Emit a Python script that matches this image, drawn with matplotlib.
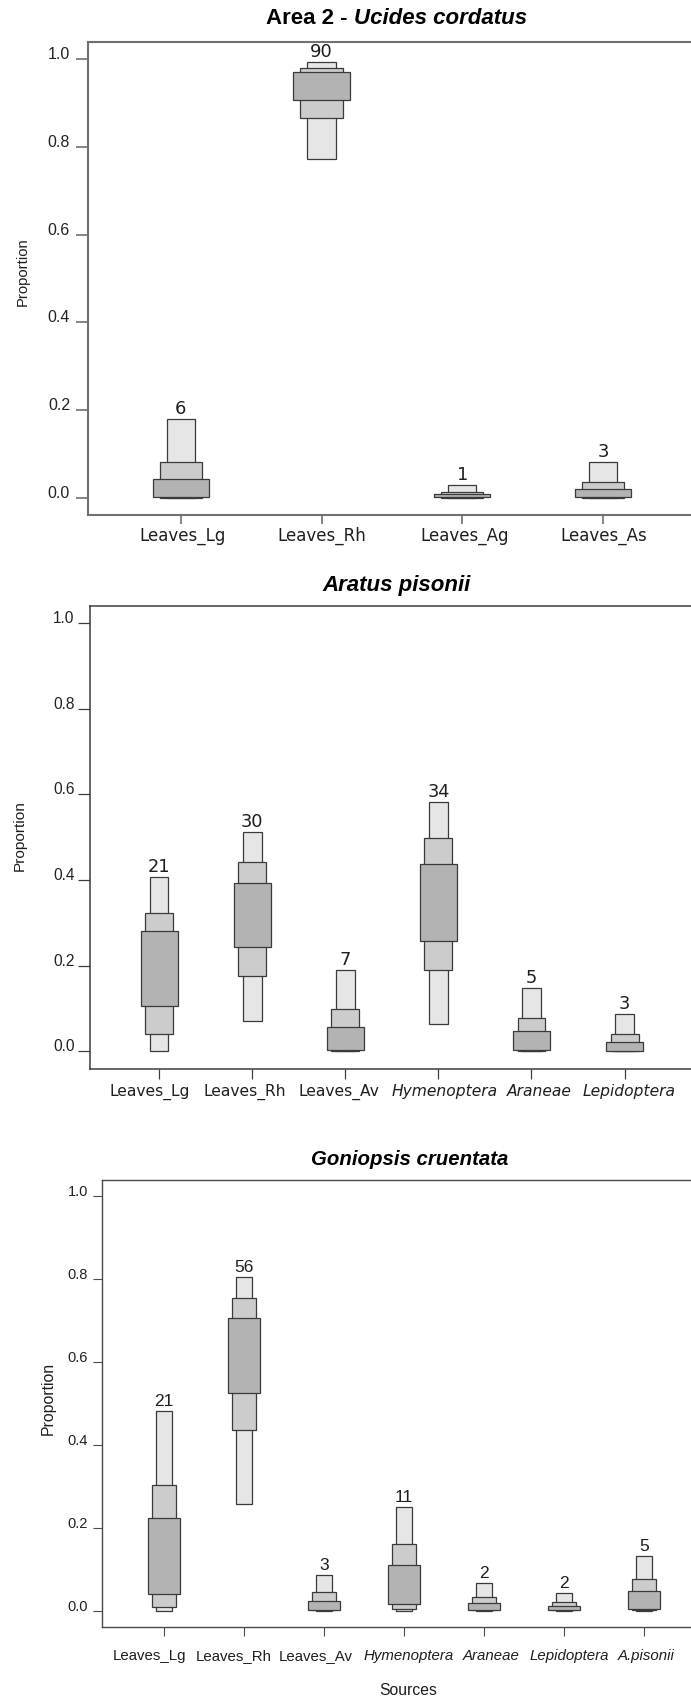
import numpy as np
import matplotlib
matplotlib.use("Agg")
import matplotlib.pyplot as plt

# ---------------- data ----------------
# Area 2 - Ucides cordatus
uc_sources = ["Leaves_Lg", "Leaves_Rh", "Leaves_Ag", "Leaves_As"]
uc_italic = [False, False, False, False]
uc_mode = [6, 90, 1, 3]
uc_ci95 = [(0.000, 0.179), (0.772, 0.994), (0.000, 0.029), (0.000, 0.081)]
uc_ci75 = [(0.0005, 0.081), (0.867, 0.981), (0.0005, 0.014), (0.0005, 0.036)]
uc_ci50 = [(0.001, 0.043), (0.907, 0.972), (0.001, 0.009), (0.001, 0.020)]

# Aratus pisonii
ap_sources = ["Leaves_Lg", "Leaves_Rh", "Leaves_Av", "Hymenoptera", "Araneae", "Lepidoptera"]
ap_italic = [False, False, False, True, True, True]
ap_mode = [21, 30, 7, 34, 5, 3]
ap_ci95 = [(0.000, 0.407), (0.070, 0.513), (0.000, 0.189), (0.064, 0.583), (0.000, 0.147), (0.000, 0.087)]
ap_ci75 = [(0.040, 0.323), (0.177, 0.441), (0.002, 0.100), (0.190, 0.498), (0.002, 0.078), (0.001, 0.041)]
ap_ci50 = [(0.106, 0.282), (0.243, 0.393), (0.003, 0.058), (0.257, 0.437), (0.003, 0.047), (0.002, 0.023)]

# Goniopsis cruentata
gc_sources = ["Leaves_Lg", "Leaves_Rh", "Leaves_Av", "Hymenoptera", "Araneae", "Lepidoptera", "A.pisonii"]
gc_italic = [False, False, False, True, True, True, True]
gc_mode = [21, 56, 3, 11, 2, 2, 5]
gc_ci95 = [(0.000, 0.481), (0.257, 0.806), (0.000, 0.087), (0.000, 0.251), (0.000, 0.066), (0.000, 0.042), (0.000, 0.131)]
gc_ci75 = [(0.008, 0.304), (0.436, 0.754), (0.001, 0.044), (0.003, 0.160), (0.001, 0.033), (0.001, 0.021), (0.002, 0.076)]
gc_ci50 = [(0.039, 0.223), (0.526, 0.707), (0.002, 0.024), (0.015, 0.111), (0.002, 0.018), (0.002, 0.012), (0.003, 0.048)]

yticks = [0.0, 0.2, 0.4, 0.6, 0.8, 1.0]
ytick_labels = ["0.0", "0.2", "0.4", "0.6", "0.8", "1.0"]

# ---------------- figure ----------------
W, H = 691, 1698
fig = plt.figure(figsize=(W / 100, H / 100), dpi=100)
fig.patch.set_facecolor("white")

SANS = ["Liberation Sans", "DejaVu Sans"]
VERA = ["DejaVu Sans"]
PT = 0.72  # points per pixel at 100 dpi

FILL95, FILL75, FILL50 = "#e6e6e6", "#cccccc", "#b3b3b3"
EDGE = "#3a3a3a"
TXT = "#1e1e1e"


def px_axes(left, top, right, bottom):
    return fig.add_axes([left / W, 1 - bottom / H, (right - left) / W, (bottom - top) / H])


def draw_panel(ax, sources, mode, ci95, ci75, ci50, italic, xlim, st):
    n = len(sources)
    x = np.arange(1, n + 1)
    # nested credible-interval boxes: 95% (narrow, light) under 75% under 50% (wide, dark)
    for ci, w, fc, z in ((ci95, 0.2, FILL95, 2), (ci75, 0.3, FILL75, 3), (ci50, 0.4, FILL50, 4)):
        lo = np.array([c[0] for c in ci])
        hi = np.array([c[1] for c in ci])
        ax.bar(x, hi - lo, bottom=lo, width=w, color=fc, edgecolor=EDGE,
               linewidth=0.9, zorder=z)
    for xi, m, c in zip(x, mode, ci95):
        ax.annotate(str(m), (xi, c[1]), xytext=(0, 3.6), textcoords="offset points",
                    ha="center", va="baseline", fontsize=st["mode_size"],
                    family=st["mode_family"], color=TXT, zorder=6)
    ax.set_xlim(*xlim)
    ax.set_ylim(-0.04, 1.04)
    ax.set_xticks(x)
    ax.set_yticks(yticks)
    ax.set_yticklabels(ytick_labels)
    # category names, nudged sideways so neighbouring names stay apart
    for xi, name, it, dx in zip(x, sources, italic, st["xlab_nudge"]):
        ax.annotate(name, (xi, 0), xycoords=ax.get_xaxis_transform(),
                    xytext=(dx * PT, -st["xlab_drop"] * PT), textcoords="offset points",
                    ha="center", va="baseline", fontsize=st["xlab_size"],
                    family=st["xlab_family"], fontstyle="italic" if it else "normal",
                    color=TXT, annotation_clip=False)
    for lab in ax.get_yticklabels():
        lab.set_family(SANS)
        lab.set_fontsize(st["ytick_size"])
        lab.set_verticalalignment("baseline")
        lab.set_color("#222222")
    ax.tick_params(axis="y", length=st["ytick_len"], width=st["spine_w"] * 0.8,
                   color=st["spine_c"], pad=st["ytick_pad"])
    ax.tick_params(axis="x", length=st["xtick_len"], width=st["spine_w"] * 0.8,
                   color=st["spine_c"], labelbottom=False)
    for sp in ax.spines.values():
        sp.set_color(st["spine_c"])
        sp.set_linewidth(st["spine_w"])
    ax.set_facecolor("white")


# panel 1
ax1 = px_axes(88.0, 41.7, 88.0 + 4.32 * 140.7, 515.4)
draw_panel(ax1, uc_sources, uc_mode, uc_ci95, uc_ci75, uc_ci50, uc_italic,
           (0.34, 4.66),
           dict(mode_size=13, mode_family=VERA, xlab_family=VERA, xlab_size=12,
                xlab_nudge=[2, 0, 2.5, 1], xlab_drop=25.5,
                ytick_size=11.5, ytick_len=8.6, ytick_pad=4.3, xtick_len=6.5,
                spine_c="#707070", spine_w=1.5))

# panel 2
ax2 = px_axes(90.3, 605.8, 90.3 + 6.48 * 93.08, 1068.5)
draw_panel(ax2, ap_sources, ap_mode, ap_ci95, ap_ci75, ap_ci50, ap_italic,
           (0.26, 6.74),
           dict(mode_size=12.8, mode_family=VERA, xlab_family=VERA, xlab_size=11.2,
                xlab_nudge=[-9, -7.5, -6.5, 6, 8, 4], xlab_drop=27.5,
                ytick_size=11.2, ytick_len=8.4, ytick_pad=2.9, xtick_len=7.0,
                spine_c="#3c3c3c", spine_w=1.1))

# panel 3
ax3 = px_axes(101.6, 1179.9, 101.6 + 7.56 * 80.0, 1627.1)
draw_panel(ax3, gc_sources, gc_mode, gc_ci95, gc_ci75, gc_ci50, gc_italic,
           (0.22, 7.78),
           dict(mode_size=12.5, mode_family=SANS, xlab_family=SANS, xlab_size=10.8,
                xlab_nudge=[-14, -10, -8, 5, 7, 5, 2.5], xlab_drop=33,
                ytick_size=10.5, ytick_len=6.2, ytick_pad=3.6, xtick_len=6.2,
                spine_c="#4a4a4a", spine_w=1.0))

# y axis titles
for (xp, yp, fs) in ((22.5, 272, 10.7), (19.4, 836, 11.1), (48, 1398, 11.4)):
    fig.text(xp / W, 1 - yp / H, "Proportion", rotation=90, ha="center", va="center",
             fontsize=fs, family=SANS, color=TXT)

fig.text(408 / W, 1 - 1690.7 / H, "Sources", ha="center", va="center",
         fontsize=11.3, family=SANS, color=TXT)

# panel titles (mixed upright / italic runs)
renderer = fig.canvas.get_renderer()


def mixed_title(cx, cy, parts, fs):
    texts = []
    for s, style in parts:
        t = fig.text(0, 1 - cy / H, s, ha="left", va="center", fontsize=fs,
                     family=SANS, fontweight="bold", fontstyle=style, color="black")
        texts.append(t)
    widths = [t.get_window_extent(renderer).width for t in texts]
    x0 = cx - sum(widths) / 2
    for t, w in zip(texts, widths):
        t.set_x(x0 / W)
        x0 += w


mixed_title(396.7, 19.0, [("Area 2 - ", "normal"), ("Ucides cordatus", "italic")], 16)
mixed_title(396.6, 585.0, [("Aratus pisonii", "italic")], 16)
mixed_title(410.0, 1159.4, [("Goniopsis cruentata", "italic")], 14.7)

fig.savefig("out.png", dpi=100, facecolor="white")
